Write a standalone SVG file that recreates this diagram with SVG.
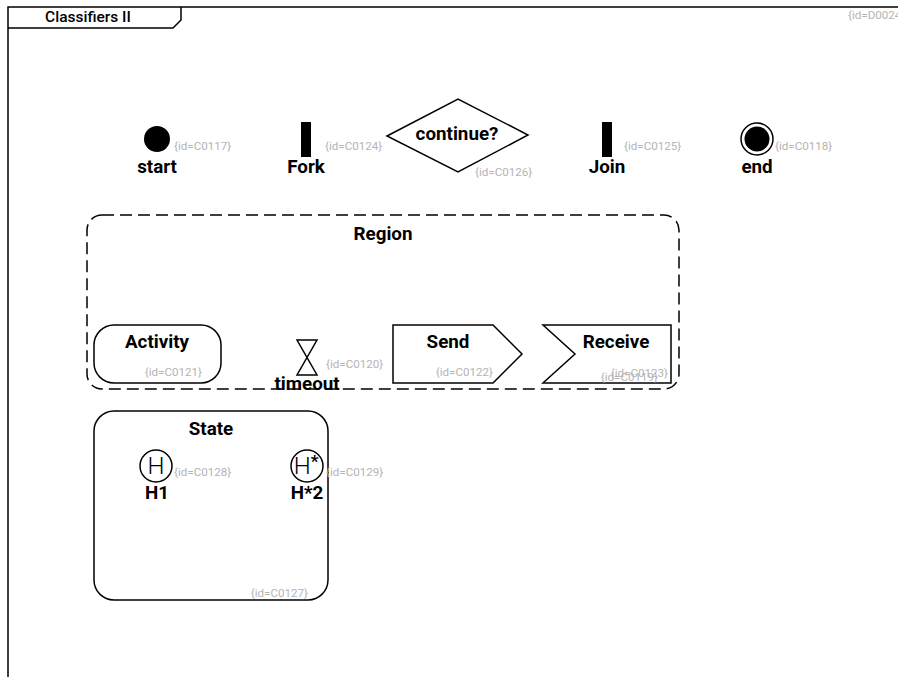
<svg xmlns="http://www.w3.org/2000/svg" width="898" height="677" viewBox="0 0 898 677">
<style>
.ln{fill:none;stroke:#000;stroke-width:1.5}
.wf{fill:#fff;stroke:#000;stroke-width:1.5}
.lb{font-family:Roboto,"Liberation Sans",sans-serif;font-weight:bold;font-size:18.8px;fill:#000;text-anchor:middle}
.id{font-family:Roboto,"Liberation Sans",sans-serif;font-size:11.6px;fill:#b4b4b4}
.ir{text-anchor:end}
.h{font-family:Roboto,"Liberation Sans",sans-serif;font-weight:300;font-size:24px;fill:#000;text-anchor:middle}
</style>
<rect width="898" height="677" fill="#fff"/>
<g id="D0024">
<path class="ln" d="M8,677 V7 H898"/>
<path class="ln" d="M8,28 H173 L181,20 V7"/>
<text x="88" y="22" style="font-family:Roboto,'Liberation Sans',sans-serif;font-size:15.5px;font-weight:500;text-anchor:middle">Classifiers II</text>
<text class="id" x="848" y="19">{id=D0024}</text>
</g>
<g id="C0119">
<rect x="87" y="215" width="592" height="174" rx="15" fill="none" stroke="#000" stroke-width="1.5" stroke-dasharray="12,6"/>
<text class="lb" x="383" y="240">Region</text>
</g>
<g id="C0117">
<circle cx="157" cy="139" r="13" fill="#000"/>
<text class="lb" x="157" y="173">start</text>
<text class="id" x="174" y="150">{id=C0117}</text>
</g>
<g id="C0124">
<rect x="301" y="122" width="10" height="35" fill="#000"/>
<text class="lb" x="306" y="173">Fork</text>
<text class="id" x="325" y="150">{id=C0124}</text>
</g>
<g id="C0126">
<polygon class="wf" points="387,136 458,99 528,135 458,172"/>
<text class="lb" x="457" y="140">continue?</text>
<text class="id" x="475" y="176">{id=C0126}</text>
</g>
<g id="C0125">
<rect x="602" y="122" width="10" height="35" fill="#000"/>
<text class="lb" x="607" y="173">Join</text>
<text class="id" x="624" y="150">{id=C0125}</text>
</g>
<g id="C0118">
<circle cx="757" cy="139" r="16" class="wf"/>
<circle cx="757" cy="139" r="12.5" fill="#000"/>
<text class="lb" x="757" y="173">end</text>
<text class="id" x="775" y="150">{id=C0118}</text>
</g>
<g id="C0121">
<rect class="wf" x="94" y="325" width="127" height="58" rx="20"/>
<text class="lb" x="157" y="348">Activity</text>
<text class="id ir" x="202" y="376">{id=C0121}</text>
</g>
<g id="C0120">
<polygon class="wf" points="297,340 317,340 297,375 317,375"/>
<text class="lb" x="307" y="390">timeout</text>
<text class="id" x="326" y="368">{id=C0120}</text>
</g>
<g id="C0122">
<polygon class="wf" points="393,325 493,325 522,354 493,383 393,383"/>
<text class="lb" x="448" y="348">Send</text>
<text class="id ir" x="493" y="376">{id=C0122}</text>
</g>
<g id="C0123">
<polygon class="wf" points="543,325 671,325 671,383 543,383 575,354"/>
<text class="lb" x="616" y="348">Receive</text>
<text class="id ir" x="668" y="377">{id=C0123}</text>
<text class="id ir" x="658" y="381">{id=C0119}</text>
</g>
<g id="C0127">
<rect class="wf" x="94" y="411" width="234" height="189" rx="20"/>
<text class="lb" x="211" y="435">State</text>
<text class="id ir" x="308" y="597">{id=C0127}</text>
</g>
<g id="C0128">
<circle class="wf" cx="156" cy="466" r="16"/>
<text class="h" x="156" y="474">H</text>
<text class="lb" x="157" y="499">H1</text>
<text class="id" x="174" y="476">{id=C0128}</text>
</g>
<g id="C0129">
<circle class="wf" cx="307" cy="466" r="16"/>
<text class="h" x="306" y="474">H<tspan style="font-weight:bold;font-size:17px" dy="-7">*</tspan></text>
<text class="lb" x="307" y="499">H*2</text>
<text class="id" x="326" y="476">{id=C0129}</text>
</g>
<g id="connectors"></g>
</svg>
